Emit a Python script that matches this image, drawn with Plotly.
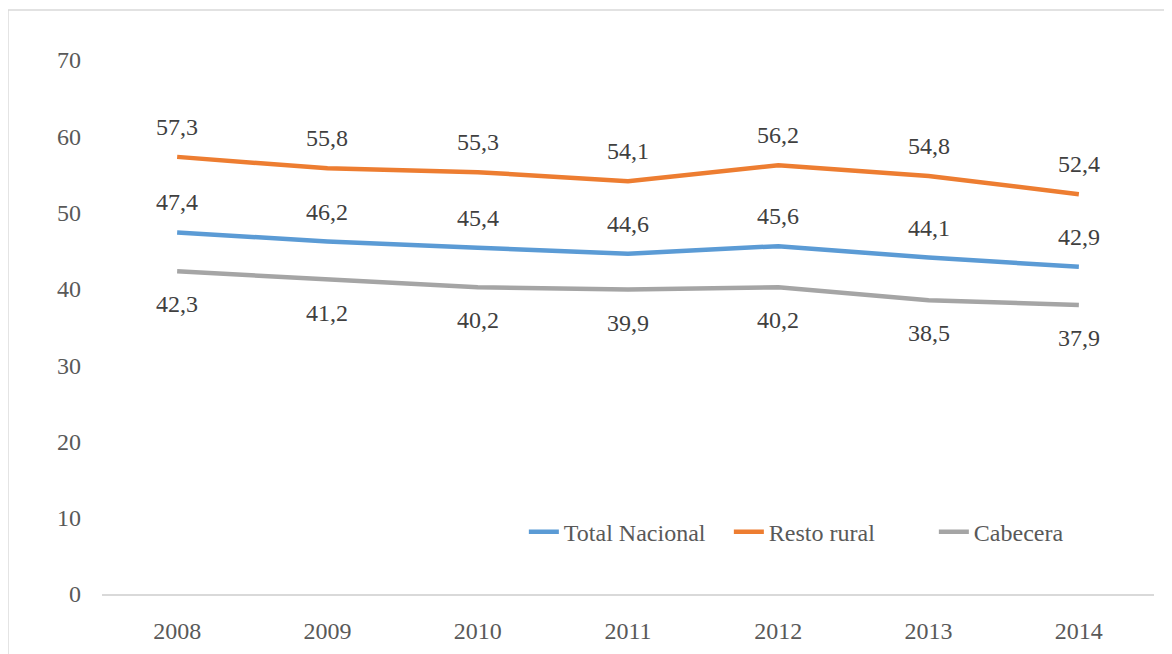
import plotly.graph_objects as go

# data
years = ["2008", "2009", "2010", "2011", "2012", "2013", "2014"]
total_nacional = [47.4, 46.2, 45.4, 44.6, 45.6, 44.1, 42.9]
resto_rural = [57.3, 55.8, 55.3, 54.1, 56.2, 54.8, 52.4]
cabecera = [42.3, 41.2, 40.2, 39.9, 40.2, 38.5, 37.9]

series = [
    ("Total Nacional", total_nacional, "#5B9BD5", 30),
    ("Resto rural", resto_rural, "#ED7D31", 30),
    ("Cabecera", cabecera, "#A5A5A5", -33),
]

FONT = "Liberation Serif"

fig = go.Figure()
for name, vals, color, shift in series:
    fig.add_trace(go.Scatter(
        x=years, y=vals, mode="lines", name=name,
        line=dict(color=color, width=4.5), hoverinfo="skip"
    ))
    # data labels (comma decimal)
    for i, v in enumerate(vals):
        fig.add_annotation(
            x=i, y=v, xref="x", yref="y", text=f"{v:.1f}".replace(".", ","),
            showarrow=False, yshift=shift,
            font=dict(family=FONT, size=24, color="#404040")
        )

# outer chart border
fig.add_shape(type="rect", xref="paper", yref="paper",
              x0=-0.0894, x1=1.03, y0=-0.13, y1=1.0936,
              line=dict(color="#D9D9D9", width=1.5), layer="below")

fig.update_layout(
    width=1172, height=654,
    margin=dict(l=94, r=26, t=52, b=68),
    plot_bgcolor="white", paper_bgcolor="white",
    font=dict(family=FONT, size=24, color="#595959"),
    showlegend=True,
    legend=dict(orientation="h", x=0.401, xanchor="left", y=0.116, yanchor="middle",
                font=dict(family=FONT, size=24, color="#595959"),
                entrywidth=160, entrywidthmode="pixels",
                bgcolor="rgba(0,0,0,0)"),
)
fig.update_xaxes(
    type="category", range=[-0.5, 6.5], showgrid=False, zeroline=False,
    showline=True, linecolor="#D9D9D9", linewidth=1.5, ticks="",
    ticklabelstandoff=14, tickfont=dict(family=FONT, size=24, color="#595959")
)
fig.update_yaxes(
    range=[0, 70], dtick=10, showgrid=False, zeroline=False, showline=False,
    ticks="", ticklabelstandoff=20, tickfont=dict(family=FONT, size=24, color="#595959")
)

fig.write_html("out.html")
